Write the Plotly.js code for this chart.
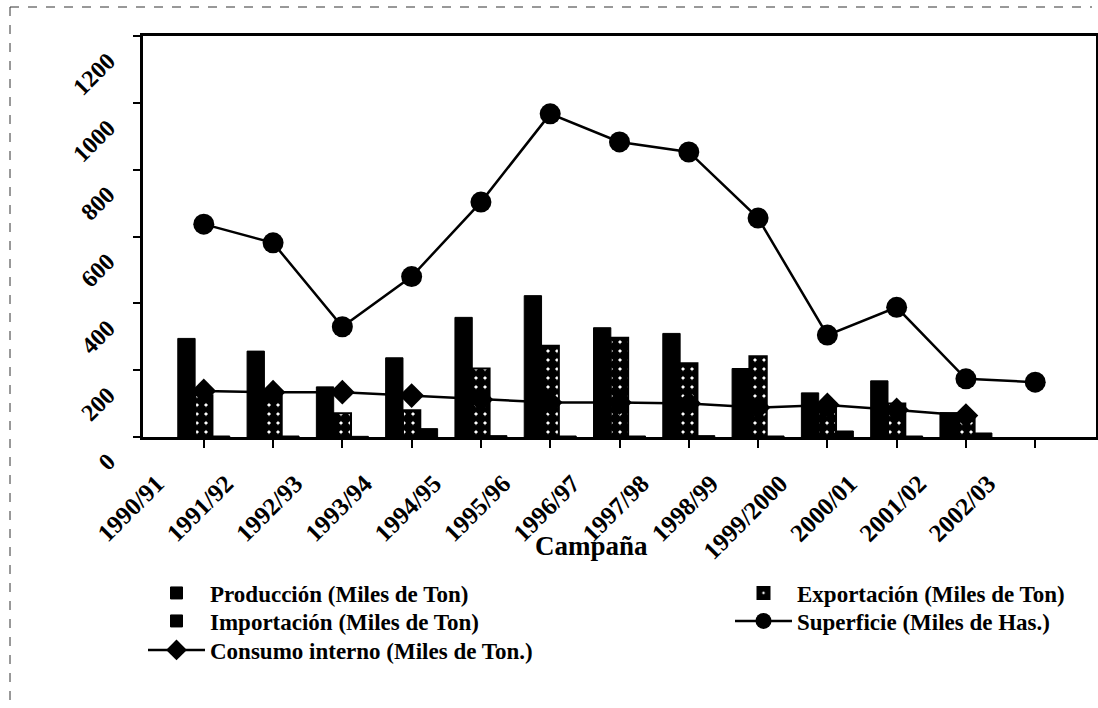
<!DOCTYPE html>
<html>
<head>
<meta charset="utf-8">
<script src="https://cdn.plot.ly/plotly-3.0.1.min.js"></script>
<style>
html,body{margin:0;padding:0;background:#fff;}
#chart{width:1098px;height:708px;}
</style>
</head>
<body>
<div id="chart"></div>
<script>
const campanas = ["1990/91","1991/92","1992/93","1993/94","1994/95","1995/96","1996/97","1997/98","1998/99","1999/2000","2000/01","2001/02","2002/03"];
const produccion = [295, 257, 150, 237, 358, 423, 327, 310, 205, 132, 168, 73, null];
const exportacion = [125, 125, 71, 80, 205, 273, 297, 221, 242, 100, 100, 60, null];
const importacion = [3, 3, 2, 25, 4, 3, 3, 4, 3, 18, 3, 12, null];
const superficie = [637, 581, 330, 480, 703, 967, 883, 853, 655, 305, 388, 174, 164];
const consumo = [138, 134, 134, 124, 112, 103, 103, 100, 88, 96, 81, 64, null];
const yTicks = [0, 200, 400, 600, 800, 1000, 1200];

const FONT = "Liberation Serif, Times New Roman, serif";
const W = 1098, H = 708;
const PLOT_L = 143, PLOT_W = 953, PLOT_T = 36, PLOT_H = 401;

const traces = [
  {type:"bar", name:"Producción (Miles de Ton)", x:campanas, y:produccion, legend:"legend",
   marker:{color:"#000", line:{color:"#000", width:1}}},
  {type:"bar", name:"Exportación (Miles de Ton)", x:campanas, y:exportacion, legend:"legend2",
   marker:{color:"#fff", line:{color:"#000", width:2},
           pattern:{shape:".", fgcolor:"#000", bgcolor:"#fff", size:9, solidity:0.85}}},
  {type:"bar", name:"Importación (Miles de Ton)", x:campanas, y:importacion, legend:"legend3",
   marker:{color:"#000", line:{color:"#000", width:1}}},
  {type:"scatter", mode:"lines+markers", name:"Superficie (Miles de Has.)", x:campanas, y:superficie, legend:"legend4",
   line:{color:"#000", width:2.5}, marker:{symbol:"circle", size:21, color:"#000"}},
  {type:"scatter", mode:"lines+markers", name:"Consumo interno (Miles de Ton.)", x:campanas, y:consumo, legend:"legend5",
   line:{color:"#000", width:2.5}, marker:{symbol:"diamond", size:19, color:"#000"}}
];

// y tick labels: drawn below their ticks, as in the scanned original
const yLabelAnns = yTicks.map(v => ({
  text:String(v), xref:"paper", yref:"y", x:(123-PLOT_L)/PLOT_W, y:v, yshift:-9,
  xanchor:"right", yanchor:"top", textangle:-45, showarrow:false,
  font:{family:FONT, size:24, weight:"bold", color:"#000"}
}));

function legendAt(px, py){
  return {
    xref:"container", yref:"container", x:px/W, xanchor:"left", y:1-py/H, yanchor:"middle",
    orientation:"v", itemwidth:57,
    font:{family:FONT, size:23, weight:"bold", color:"#000"},
    bgcolor:"rgba(0,0,0,0)", borderwidth:0
  };
}

const layout = {
  width:W, height:H,
  paper_bgcolor:"#fff", plot_bgcolor:"#fff",
  margin:{l:PLOT_L, r:W-PLOT_L-PLOT_W, t:PLOT_T, b:H-PLOT_T-PLOT_H, autoexpand:false},
  font:{family:FONT, color:"#000", size:17},
  barmode:"group", bargap:0.25, bargroupgap:0,
  showlegend:true,
  xaxis:{
    type:"category", showline:true, linecolor:"#000", linewidth:3, mirror:true,
    ticks:"outside", ticklen:8, tickwidth:2, tickcolor:"#000",
    tickangle:-45, ticklabelshift:-47, ticklabelstandoff:11,
    showgrid:false, zeroline:false, automargin:false,
    tickfont:{family:FONT, size:25, weight:"bold", color:"#000"}
  },
  yaxis:{
    range:[0,1200], tickvals:yTicks, showticklabels:false,
    showline:true, linecolor:"#000", linewidth:3, mirror:true,
    ticks:"outside", ticklen:7, tickwidth:2, tickcolor:"#000",
    showgrid:false, zeroline:false, automargin:false
  },
  legend: legendAt(143, 593),
  legend2: legendAt(730, 593),
  legend3: legendAt(143, 621),
  legend4: legendAt(730, 621),
  legend5: legendAt(143, 650),
  annotations:[
    {text:"Campaña", xref:"paper", yref:"paper", x:(591-PLOT_L)/PLOT_W, y:(437-546)/PLOT_H,
     xanchor:"center", yanchor:"middle", showarrow:false,
     font:{family:FONT, size:27, weight:"bold", color:"#000"}}
  ].concat(yLabelAnns),
  shapes:[
    {type:"line", xref:"paper", yref:"paper", x0:(10-PLOT_L)/PLOT_W, x1:(1092-PLOT_L)/PLOT_W, y0:1+(PLOT_T-7)/PLOT_H, y1:1+(PLOT_T-7)/PLOT_H,
     line:{color:"#333", width:1, dash:"dash"}},
    {type:"line", xref:"paper", yref:"paper", x0:(10-PLOT_L)/PLOT_W, x1:(10-PLOT_L)/PLOT_W, y0:1+(PLOT_T-7)/PLOT_H, y1:(437-708)/PLOT_H,
     line:{color:"#333", width:1, dash:"dash"}}
  ]
};

Plotly.newPlot("chart", traces, layout, {displayModeBar:false, staticPlot:true});
</script>
</body>
</html>
